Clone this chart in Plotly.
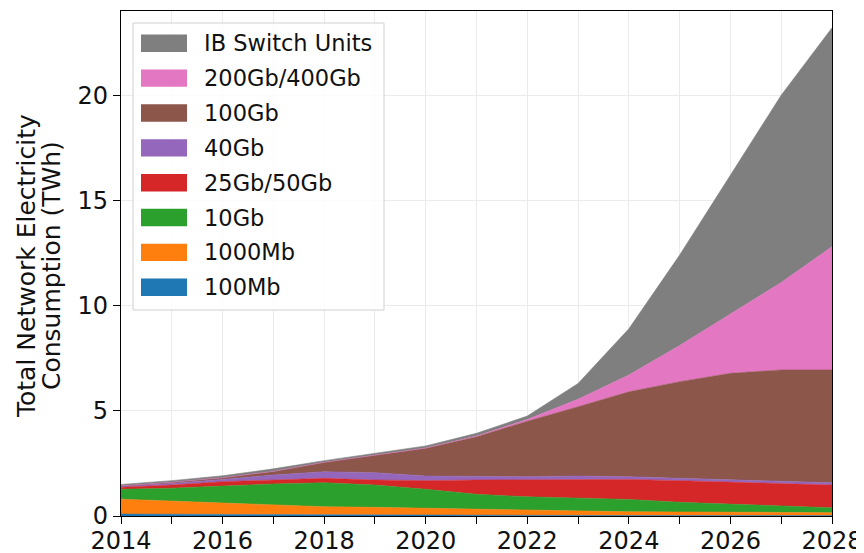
import plotly.graph_objects as go

years = list(range(2014, 2029))

# layer values (TWh), bottom to top
mb100 = [0.09, 0.08, 0.07, 0.06, 0.05, 0.04, 0.04, 0.03, 0.03, 0.02, 0.02, 0.02, 0.02, 0.02, 0.02]
mb1000 = [0.71, 0.63, 0.56, 0.46, 0.39, 0.37, 0.33, 0.29, 0.26, 0.20, 0.18, 0.17, 0.16, 0.15, 0.14]
gb10 = [0.47, 0.61, 0.79, 1.00, 1.14, 1.06, 0.90, 0.71, 0.62, 0.64, 0.59, 0.46, 0.38, 0.30, 0.23]
gb25_50 = [0.10, 0.15, 0.21, 0.19, 0.21, 0.24, 0.41, 0.68, 0.80, 0.88, 0.95, 1.03, 1.04, 1.05, 1.08]
gb40 = [0.05, 0.08, 0.11, 0.24, 0.31, 0.35, 0.22, 0.16, 0.16, 0.16, 0.13, 0.11, 0.11, 0.11, 0.11]
gb100 = [0.01, 0.05, 0.08, 0.17, 0.45, 0.84, 1.32, 1.90, 2.63, 3.29, 4.03, 4.59, 5.07, 5.31, 5.36]
gb200_400 = [0.0, 0.0, 0.0, 0.0, 0.0, 0.0, 0.01, 0.03, 0.09, 0.36, 0.80, 1.72, 2.82, 4.16, 5.86]
ib_switch = [0.07, 0.08, 0.09, 0.12, 0.08, 0.08, 0.10, 0.13, 0.16, 0.75, 2.20, 4.30, 6.60, 8.90, 10.40]

series_names = ["100Mb", "1000Mb", "10Gb", "25Gb/50Gb", "40Gb", "100Gb", "200Gb/400Gb", "IB Switch Units"]
series_values = [mb100, mb1000, gb10, gb25_50, gb40, gb100, gb200_400, ib_switch]
colors = ["#1f77b4", "#ff7f0e", "#2ca02c", "#d62728", "#9467bd", "#8c564b", "#e377c2", "#7f7f7f"]

x_tick_vals = years
x_tick_text = [str(y) if y % 2 == 0 else "" for y in years]
y_tick_vals = [0, 5, 10, 15, 20]

FONT = "DejaVu Sans"
TXT = "#111111"
WIN_W, WIN_H = 864, 553
OFF = 8  # default page body margin offsets the figure
W, H = WIN_W - OFF, WIN_H - OFF
# target plot area in window pixels: x 121..832, y 11..516
L, R, T, B = 121 - OFF, WIN_W - 832, 11 - OFF, WIN_H - 516
pw, ph = W - L - R, H - T - B

fig = go.Figure()
for name, vals, col in zip(series_names, series_values, colors):
    fig.add_trace(go.Scatter(
        x=years, y=vals, name=name, mode="lines", stackgroup="one",
        line=dict(color=col, width=0.6), fillcolor=col, showlegend=False,
        hoverinfo="x+y+name",
    ))

def px2paper_x(px):
    return (px - OFF - L) / pw

def px2paper_y(py):
    return (H - B - (py - OFF)) / ph

shapes = []
annotations = []
# legend box
shapes.append(dict(type="rect", xref="paper", yref="paper",
                   x0=px2paper_x(133), x1=px2paper_x(384),
                   y0=px2paper_y(310), y1=px2paper_y(23),
                   line=dict(color="#d0d0d0", width=1),
                   fillcolor="rgba(255,255,255,0.85)", layer="above"))
row_y0 = 43.3
row_dy = 34.85
for i, (name, col) in enumerate(zip(series_names[::-1], colors[::-1])):
    cy = row_y0 + i * row_dy
    shapes.append(dict(type="rect", xref="paper", yref="paper",
                       x0=px2paper_x(141), x1=px2paper_x(187),
                       y0=px2paper_y(cy + 8.7), y1=px2paper_y(cy - 8.7),
                       line=dict(width=0), fillcolor=col, layer="above"))
    annotations.append(dict(xref="paper", yref="paper", x=px2paper_x(202),
                            y=px2paper_y(cy), text=name, showarrow=False,
                            xanchor="left", yanchor="middle",
                            font=dict(family=FONT, size=22.5, color=TXT)))

# y-axis title (two lines)
for txt, cx in [("Total Network Electricity", 26), ("Consumption (TWh)", 51)]:
    annotations.append(dict(xref="paper", yref="paper", x=px2paper_x(cx), y=px2paper_y(266),
                            text=txt, textangle=-90, showarrow=False,
                            xanchor="center", yanchor="middle",
                            font=dict(family=FONT, size=25, color=TXT)))

fig.update_layout(
    width=W, height=H,
    margin=dict(l=L, r=R, t=T, b=B, pad=0, autoexpand=False),
    paper_bgcolor="white", plot_bgcolor="white",
    font=dict(family=FONT, size=24, color=TXT),
    shapes=shapes, annotations=annotations,
    showlegend=False,
)
fig.update_xaxes(
    range=[2014, 2028], tickmode="array", tickvals=x_tick_vals, ticktext=x_tick_text,
    showgrid=True, gridcolor="#ebebeb", gridwidth=1,
    showline=True, linecolor="black", linewidth=1.2, mirror=True,
    ticks="outside", ticklen=7, tickwidth=1.2, tickcolor="black",
    ticklabelstandoff=-4,
    zeroline=False, automargin=False, tickfont=dict(family=FONT, size=24, color=TXT),
)
fig.update_yaxes(
    range=[0, 24.0], tickmode="array", tickvals=y_tick_vals,
    showgrid=True, gridcolor="#ebebeb", gridwidth=1,
    showline=True, linecolor="black", linewidth=1.2, mirror=True,
    ticks="outside", ticklen=7, tickwidth=1.2, tickcolor="black",
    zeroline=False, automargin=False, tickfont=dict(family=FONT, size=24, color=TXT),
)

fig.write_html("out.html")
